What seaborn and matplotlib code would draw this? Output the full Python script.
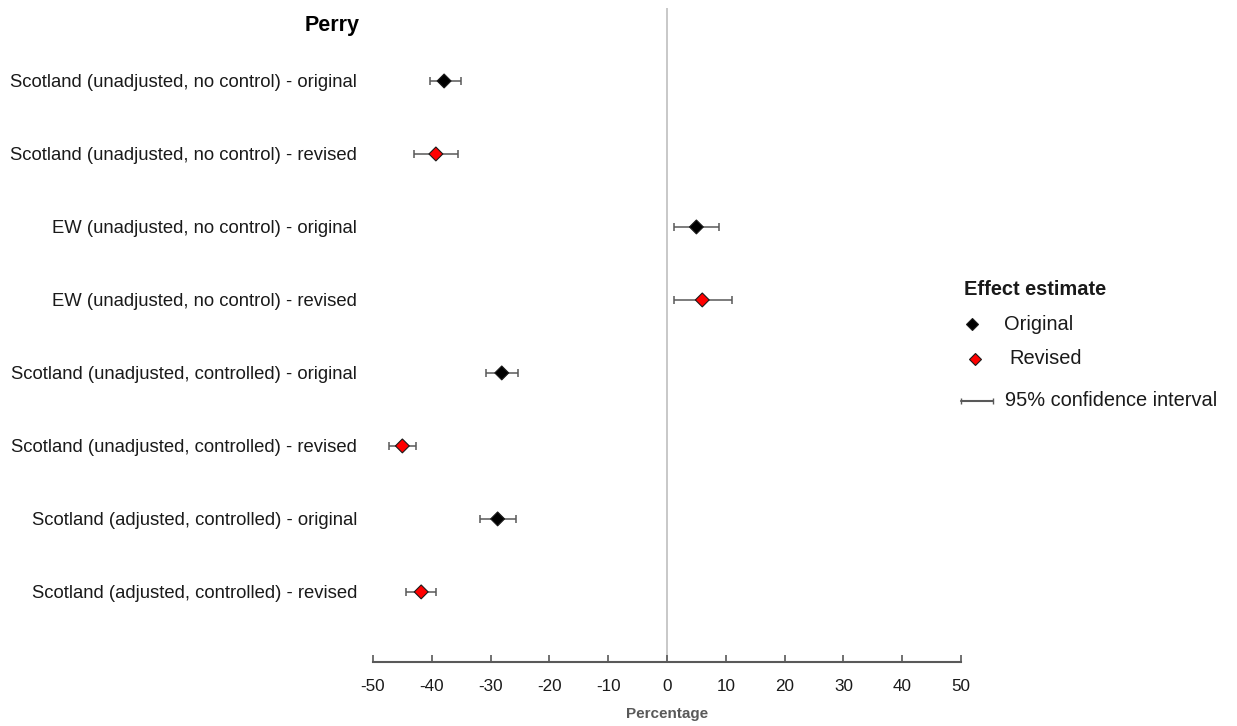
import matplotlib
matplotlib.use("Agg")
import matplotlib.pyplot as plt
from matplotlib.lines import Line2D
import seaborn as sns
import pandas as pd

# Effect estimates (percentage change) with 95% confidence intervals
labels = [
    "Scotland (unadjusted, no control) - original",
    "Scotland (unadjusted, no control) - revised",
    "EW (unadjusted, no control) - original",
    "EW (unadjusted, no control) - revised",
    "Scotland (unadjusted, controlled) - original",
    "Scotland (unadjusted, controlled) - revised",
    "Scotland (adjusted, controlled) - original",
    "Scotland (adjusted, controlled) - revised",
]
version = ["Original", "Revised"] * 4
estimate = [-37.9, -39.3, 5.0, 6.0, -28.1, -45.0, -28.8, -41.8]
ci_low = [-40.3, -43.0, 1.2, 1.2, -30.7, -47.2, -31.8, -44.4]
ci_high = [-35.1, -35.5, 8.9, 11.1, -25.4, -42.7, -25.7, -39.3]
x_ticks = list(range(-50, 51, 10))

df = pd.DataFrame({
    "label": labels,
    "version": version,
    "estimate": estimate,
    "low": ci_low,
    "high": ci_high,
})
df["pos"] = range(len(df))

sns.set_theme(style="white")
plt.rcParams["font.family"] = ["Liberation Sans", "DejaVu Sans"]

W, H = 1237, 726
fig = plt.figure(figsize=(W / 100, H / 100), dpi=100)
ax = fig.add_axes([0.3015, 0.0882, 0.4754, 0.9008])

grey = "#595959"
palette = {"Original": "#000000", "Revised": "#ff0000"}

# Zero reference line
ax.axvline(0, color="#bfbfbf", lw=1.2, zorder=0)

# Confidence intervals
ax.errorbar(df["estimate"], df["pos"],
            xerr=[df["estimate"] - df["low"], df["high"] - df["estimate"]],
            fmt="none", ecolor=grey, elinewidth=1.1, capsize=3, capthick=1.1,
            zorder=2)

# Point estimates
sns.scatterplot(data=df, x="estimate", y="pos", hue="version", palette=palette,
                marker="D", s=50, edgecolor="#1a1a1a", linewidth=0.8,
                legend=False, ax=ax, zorder=3)

ax.set_xlim(-50, 50)
ax.set_ylim(7.96, -1)
ax.set_xticks(x_ticks)
ax.set_xticklabels([str(t) for t in x_ticks], fontsize=12.3, color="#1a1a1a")
ax.set_yticks(df["pos"])
ax.set_yticklabels(df["label"], fontsize=13.3, color="#1a1a1a")
ax.tick_params(axis="y", length=0, pad=11.5)
ax.tick_params(axis="x", direction="in", length=5, width=1.2, color=grey,
               pad=12, bottom=True)
for side in ("left", "right", "top"):
    ax.spines[side].set_visible(False)
ax.spines["bottom"].set_color(grey)
ax.spines["bottom"].set_linewidth(1.5)

ax.set_xlabel("Percentage", fontsize=11, fontweight="bold", color=grey,
              labelpad=9.5)
ax.set_ylabel("")

# Panel title above the category labels
fig.text(360 / W, 1 - 26 / H, "Perry", ha="right", va="center",
         fontsize=15.5, fontweight="bold", color="#000000")


# Legend, laid out in figure pixels
def fx(px):
    return px / W


def fy(py):
    return 1 - py / H


leg_font = 14.4
fig.text(fx(964), fy(290), "Effect estimate", ha="left", va="center",
         fontsize=leg_font, fontweight="bold", color="#1a1a1a")
legend_rows = [
    ("Original", palette["Original"], 972, 1004, 324),
    ("Revised", palette["Revised"], 975, 1009, 359),
]
for name, colour, mx, tx, y in legend_rows:
    fig.add_artist(Line2D([fx(mx)], [fy(y)], transform=fig.transFigure,
                          marker="D", linestyle="none", markersize=6,
                          markerfacecolor=colour, markeredgecolor="#1a1a1a",
                          markeredgewidth=0.8))
    fig.text(fx(tx), fy(y), name, ha="left", va="center",
             fontsize=leg_font, color="#1a1a1a")
fig.add_artist(Line2D([fx(961), fx(993)], [fy(401), fy(401)],
                      transform=fig.transFigure, color=grey, lw=1.5,
                      marker="|", markersize=5, markevery=[0, 1]))
fig.text(fx(1005), fy(401), "95% confidence interval", ha="left",
         va="center", fontsize=leg_font, color="#1a1a1a")

fig.savefig("out.png", dpi=100)
